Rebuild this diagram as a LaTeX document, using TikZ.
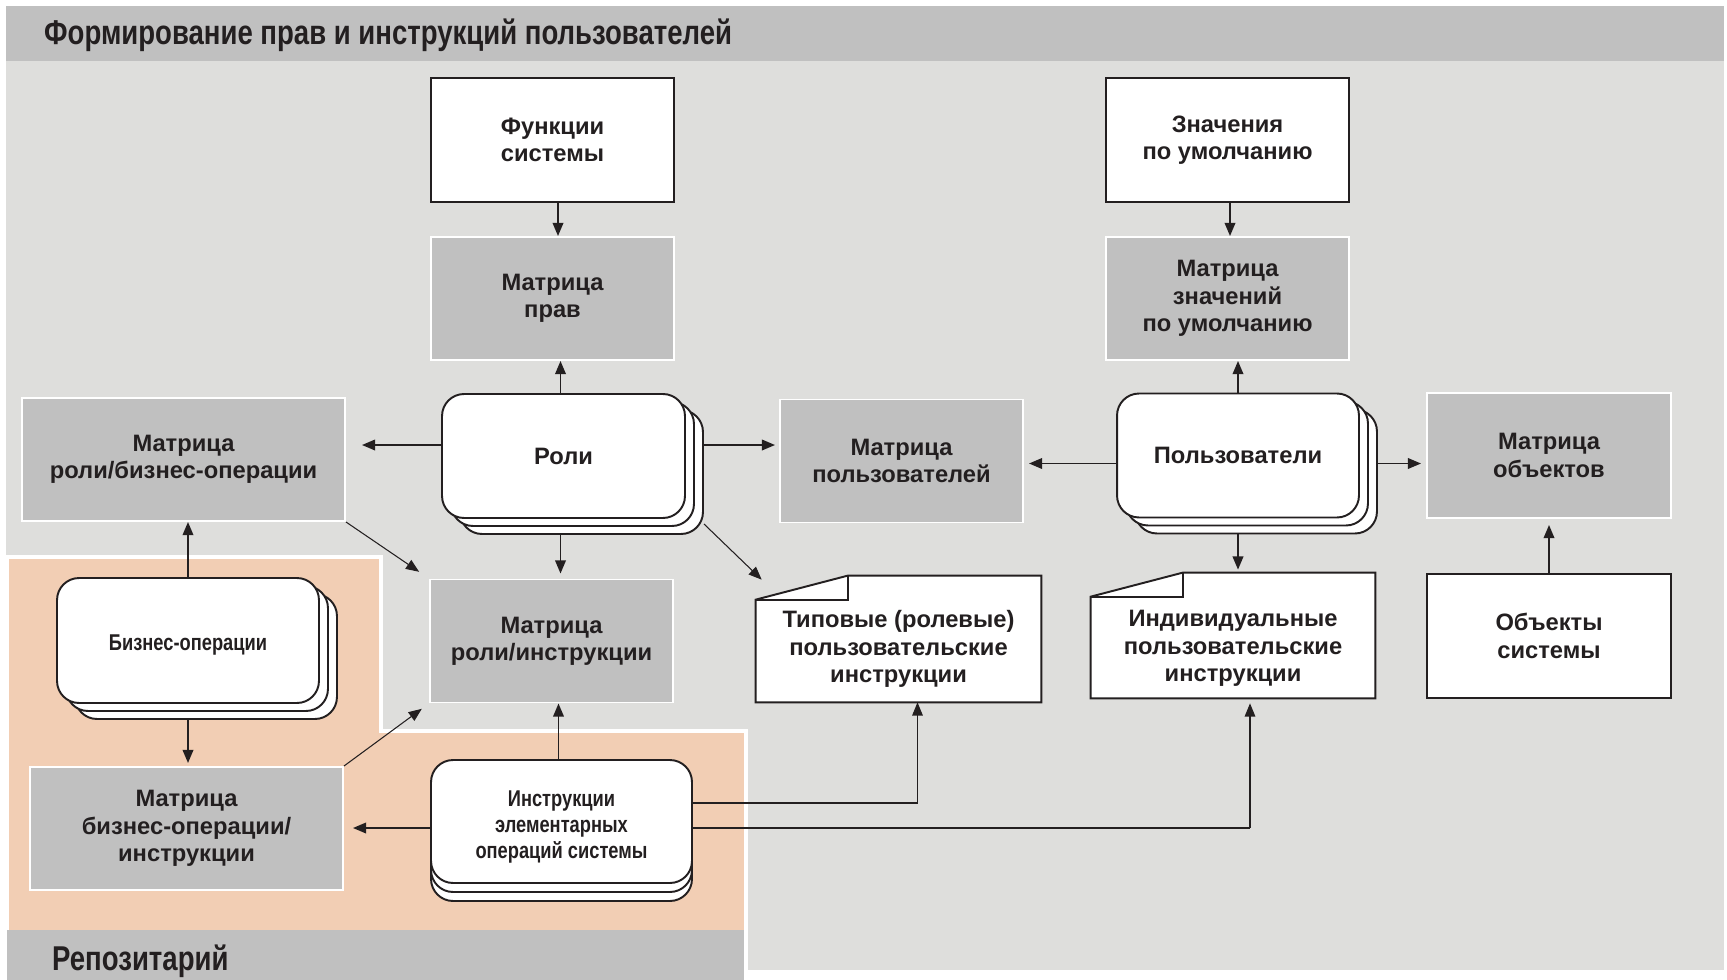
\documentclass[tikz,border=0pt]{standalone}
\usepackage{fontspec}
\setmainfont{Liberation Sans}
\newfontfamily\narrowfont{Liberation Sans}[FakeStretch=0.8]
\usetikzlibrary{arrows.meta,backgrounds}
\definecolor{ink}{RGB}{35,31,32}
\definecolor{bgmain}{RGB}{222,222,220}
\definecolor{hdrgray}{RGB}{192,192,192}
\definecolor{boxgray}{RGB}{192,192,192}
\definecolor{peach}{RGB}{242,206,180}
% document sheet with a folded corner
\newcommand\docfold[1]{%
  \draw[docline] ([yshift=-0.48cm]#1.north west) -- ([xshift=1.84cm]#1.north west) -- (#1.north east) -- (#1.south east) -- (#1.south west) -- cycle;
  \draw[docline, fill=none] ([yshift=-0.48cm]#1.north west) -- ([xshift=1.84cm,yshift=-0.48cm]#1.north west) -- ([xshift=1.84cm]#1.north west);}

\begin{document}
\begin{tikzpicture}[x=0.02cm, y=-0.02cm,
    font=\fontsize{13.5}{15.5}\selectfont\bfseries, text=ink,
    plainbox/.style={draw=ink, line width=1.1pt, fill=white, align=center, minimum width=4.86cm, minimum height=2.48cm},
    mtx/.style={draw=white, line width=1.1pt, fill=boxgray, align=center, minimum width=4.86cm, minimum height=2.46cm},
    stack/.style={draw=ink, line width=1.1pt, fill=white, rounded corners=0.44cm, align=center, minimum width=4.86cm, minimum height=2.48cm},
    doc/.style={minimum width=5.7cm, minimum height=2.52cm},
    docline/.style={draw=ink, line width=1.1pt, fill=white},
    narrow/.style={font=\narrowfont\fontsize{13}{14.7}\selectfont\bfseries},
    big/.style={font=\narrowfont\fontsize{19.6}{22}\selectfont\bfseries},
    arr/.style={draw=ink, line width=1.1pt, -{Triangle[length=7.5pt,width=6pt]}},
    tarr/.style={draw=ink, line width=0.6pt, -{Triangle[length=7.5pt,width=6pt]}}]
\useasboundingbox (0,0) rectangle (1727,980);

\begin{scope}[on background layer]
    \fill[hdrgray] (6,6) rectangle (1724,61);
    \fill[bgmain] (6,61) rectangle (1724,970);
    \filldraw[fill=peach, draw=white, line width=2.8pt] (7,557) -- (381,557) -- (381,731) -- (746,731) -- (746,975) -- (7,975) -- cycle;
    \fill[hdrgray] (7,930) rectangle (744,980);
\end{scope}

\node[anchor=west, big] (title) at (38,35) {Формирование прав и инструкций пользователей};
\node[anchor=west, big] (repo) at (46,961) {Репозитарий};

\node[plainbox] (fun) at (552.5,140) {Функции\\системы};
\node[mtx] (mprav) at (552.5,298.5) {Матрица\\прав};
\node[plainbox] (znach) at (1227.5,140) {Значения\\по умолчанию};
\node[mtx] (mznach) at (1227.5,298.5) {Матрица\\значений\\по умолчанию};

\node[stack] (roli3) at (581.5,472) {};
\node[stack] (roli2) at (572.5,464) {};
\node[stack] (roli) at (563.5,456) {Роли};
\node[mtx, minimum width=6.46cm] (mrb) at (183.5,459.5) {Матрица\\роли/бизнес-операции};
\node[mtx] (mpolz) at (901.5,461) {Матрица\\пользователей};
\node[stack, minimum width=4.84cm] (polz3) at (1256,471.5) {};
\node[stack, minimum width=4.84cm] (polz2) at (1247,463.5) {};
\node[stack, minimum width=4.84cm] (polz) at (1238,455.5) {Пользователи};
\node[mtx, minimum width=4.88cm, minimum height=2.5cm] (mobj) at (1549,455.5) {Матрица\\объектов};

\node[stack, minimum width=5.24cm, minimum height=2.5cm] (biz3) at (206,656.5) {};
\node[stack, minimum width=5.24cm, minimum height=2.5cm] (biz2) at (197,648.5) {};
\node[stack, minimum width=5.24cm, minimum height=2.5cm] (biz) at (188,640.5) {};
\node[narrow] (biztext) at ([yshift=-0.1cm]biz.center) {Бизнес-операции};
\node[mtx] (mri) at (551.5,641) {Матрица\\роли/инструкции};
\node[doc] (tip) at (898.5,639) {};
\node[doc, minimum width=5.68cm, minimum height=2.5cm] (ind) at (1233,635.5) {};
\node[plainbox, minimum width=4.88cm] (obj) at (1549,636) {Объекты\\системы};

\node[mtx, minimum width=6.26cm] (mbi) at (186.5,828.5) {Матрица\\бизнес-операции/\\инструкции};
\node[stack, minimum width=5.22cm, minimum height=2.46cm] (instr3) at (561.5,839.5) {};
\node[stack, minimum width=5.22cm, minimum height=2.46cm] (instr2) at (561.5,830.5) {};
\node[stack, minimum width=5.22cm, minimum height=2.46cm] (instr) at (561.5,821.5) {};
\node[narrow, align=center] (instrtext) at ([yshift=-0.11cm]instr.center) {Инструкции\\элементарных\\операций системы};

\begin{scope}[on background layer]
    \docfold{tip}
    \docfold{ind}
\end{scope}
\node[align=center] (tiptext) at ([yshift=-0.2cm]tip.center) {Типовые (ролевые)\\пользовательские\\инструкции};
\node[align=center] (indtext) at ([yshift=-0.26cm]ind.center) {Индивидуальные\\пользовательские\\инструкции};

% connectors
\draw[arr] ([xshift=0.11cm]fun.south) -- ([xshift=0.11cm]fun.south |- mprav.north);
\draw[arr] ([xshift=0.05cm]znach.south) -- ([xshift=0.05cm]znach.south |- mznach.north);
\draw[arr] ([xshift=-0.06cm]roli.north) -- ([xshift=-0.06cm]roli.north |- mprav.south);
\draw[arr, shorten >=0.32cm] ([yshift=0.22cm]roli.west) -- ([yshift=0.22cm]roli.west -| mrb.east);
\draw[arr, shorten >=0.08cm] ([yshift=0.22cm]roli.west -| roli3.east) -- ([yshift=0.22cm]roli.west -| mpolz.west);
\draw[arr, shorten >=0.1cm] ([xshift=-0.06cm]roli.north |- roli3.south) -- ([xshift=-0.06cm]roli.north |- mri.north);
\draw[tarr] ([yshift=0.22cm]roli3.south east) -- ([xshift=0.12cm,yshift=-0.08cm]tip.north west);
\draw[tarr, shorten >=0.24cm] (mrb.south east) -- (mri.north west);
\draw[tarr, shorten >=0.18cm] (mbi.north east) -- (mri.south west);

\draw[arr] (polz.north) -- (polz.north |- mznach.south);
\draw[arr, shorten >=0.1cm] ([yshift=-0.16cm]polz.west) -- ([yshift=-0.16cm]polz.west -| mpolz.east);
\draw[arr, shorten >=0.1cm] ([yshift=-0.16cm]polz.west -| polz3.east) -- ([yshift=-0.16cm]polz.west -| mobj.west);
\draw[arr, shorten >=0.06cm] (polz.south |- polz3.south) -- (polz.south |- ind.north);
\draw[arr, shorten >=0.12cm] (obj.north) -- (obj.north |- mobj.south);

\draw[arr] (biz.north) -- (biz.north |- mrb.south);
\draw[arr, shorten >=0.06cm] (biz.south |- biz3.south) -- (biz.south |- mbi.north);

\draw[arr] ([xshift=-0.06cm]instr.north) -- ([xshift=-0.06cm]instr.north |- mri.south);
\draw[arr, shorten >=0.18cm] ([yshift=-0.13cm]instr.west) -- ([yshift=-0.13cm]instr.west -| mbi.east);
\coordinate (i1) at ([yshift=0.37cm]instr.east);
\coordinate (t1) at ([xshift=0.38cm]tip.south);
\coordinate (i2) at ([yshift=-0.13cm]instr.east);
\coordinate (t2) at ([xshift=0.34cm]ind.south);
\draw[ink, line width=1.1pt] (i1) -- (i1 -| t1);
\draw[tarr] (i1 -| t1) -- (t1);
\draw[ink, line width=1.1pt] (i2) -- (i2 -| t2);
\draw[tarr, shorten >=0.1cm] (i2 -| t2) -- (t2);
\end{tikzpicture}
\end{document}
